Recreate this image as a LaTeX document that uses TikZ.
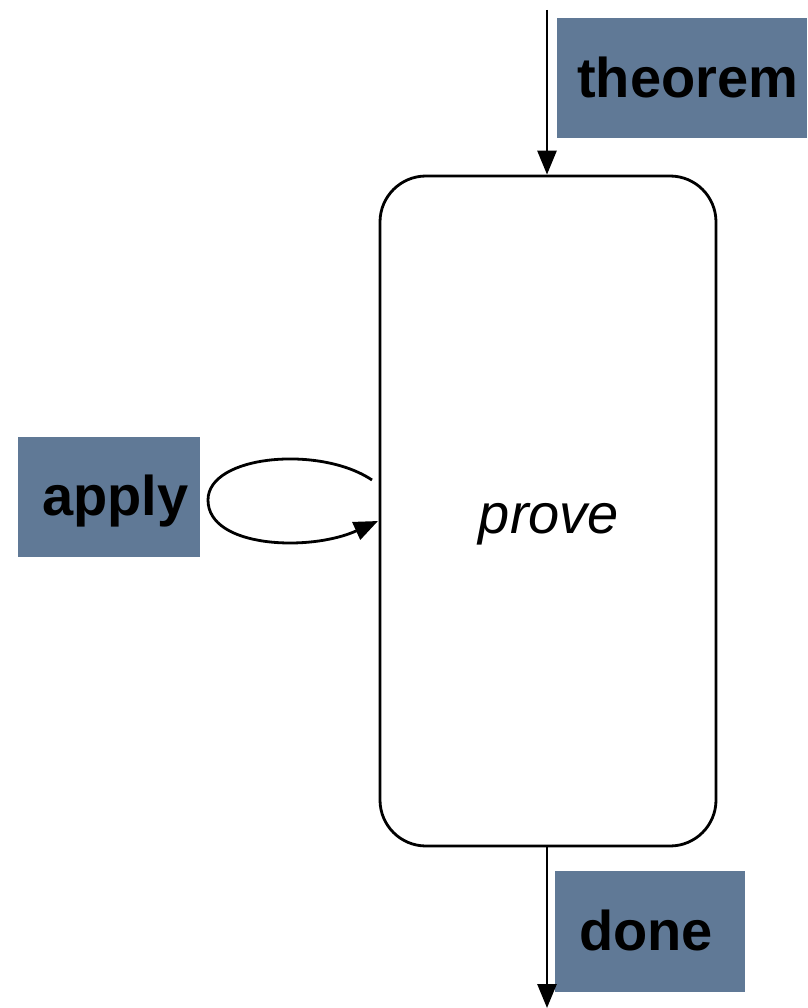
\documentclass[tikz,border=0pt]{standalone}
\usepackage{fontspec}
\setmainfont{Liberation Sans}
\usetikzlibrary{arrows.meta}
\definecolor{tagblue}{RGB}{96,121,150}
\tikzset{
  tag/.style={fill=tagblue, inner sep=0pt},
  tagtext/.style={anchor=base west, inner sep=0pt, font=\fontsize{56}{60}\selectfont\bfseries, text=black},
  flow/.style={line width=2.8pt, -{Triangle[width=19pt,length=24pt]}},
  procbox/.style={draw, line width=2.8pt, rounded corners=46pt, inner sep=0pt}
}
\begin{document}
\begin{tikzpicture}[x=1pt,y=-1pt]
\useasboundingbox (0,0) rectangle (807,1008);
\clip (0,0) rectangle (807,1008);
\node[procbox, minimum width=336pt, minimum height=670pt] (prove) at (548,511) {};
\node[anchor=base, inner sep=0pt, font=\fontsize{56}{60}\selectfont\itshape] (provetext) at (549,533) {prove};
\node[tag, minimum width=250pt, minimum height=120pt] (theorem) at (682,78) {};
\node[tagtext] (theoremtext) at (577,98) {theorem};
\node[tag, minimum width=182pt, minimum height=120pt] (apply) at (109,497) {};
\node[tagtext] (applytext) at (42,515) {apply};
\node[tag, minimum width=190pt, minimum height=121pt] (done) at (650,931) {};
\node[tagtext] (donetext) at (579,950) {done};
\coordinate (topin) at (547,10);
\coordinate (botout) at (547,1008);
\coordinate (loopstart) at (372,480);
\coordinate (loopend) at (378,521);
\draw[flow] (topin) -- (topin |- prove.north);
\draw[flow] (botout |- prove.south) -- (botout);
\draw[flow] (loopstart) .. controls (320,445) and (208,455) .. (208,500)
  .. controls (208,548) and (310,552) .. (loopend);
\end{tikzpicture}
\end{document}
